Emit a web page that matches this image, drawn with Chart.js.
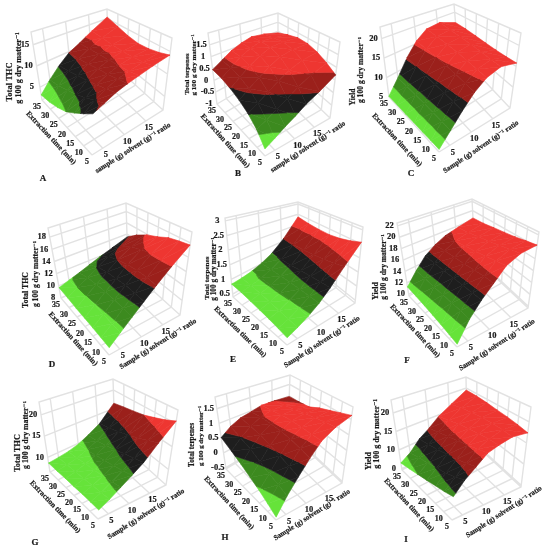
<!DOCTYPE html>
<html>
<head>
<meta charset="utf-8">
<title>Response surfaces</title>
<script src="https://cdn.jsdelivr.net/npm/chart.js@4/dist/chart.umd.min.js"></script>
<style>
  html, body { margin: 0; padding: 0; background: #fff; }
  #plot { display: block; filter: blur(0.4px); }
</style>
</head>
<body>
<canvas id="plot" width="544" height="550"></canvas>
<script>
// axis nodes of every surface table: rows run along time, columns along ratio
const TIME_NODES = [35, 30, 25, 20, 15, 10, 5];
const RATIO_NODES = [2.5, 5, 7.5, 10, 12.5, 15.5, 19];
const TIME_TICKS = [35, 30, 25, 20, 15, 10, 5];
const RATIO_TICKS = [5, 10, 15];

const Z_A = [
  [3.2, 5.5, 7.7, 9.7, 11, 13, 15.5],
  [3.6, 6, 8.2, 10, 11.4, 12.8, 14.3],
  [4.3, 6.8, 8.9, 10.5, 11.6, 12.6, 13.3],
  [5.2, 7.6, 9.5, 10.9, 11.8, 12.5, 12.8],
  [6.6, 8.5, 10.1, 11.2, 12, 12.6, 13],
  [8, 9.5, 10.7, 11.6, 12.2, 12.9, 13.5],
  [9.4, 10.3, 11.3, 12, 12.6, 13.4, 14.2],
];
const Z_B = [
  [0.45, 0.68, 0.93, 1.1, 1.22, 1.13, 0.92],
  [0.4, 0.65, 0.95, 1.15, 1.3, 1.25, 1.13],
  [0.28, 0.55, 0.85, 1.1, 1.3, 1.32, 1.27],
  [0.12, 0.38, 0.65, 0.9, 1.15, 1.25, 1.26],
  [-0.08, 0.12, 0.35, 0.6, 0.85, 1.05, 1.13],
  [-0.36, -0.22, -0.02, 0.2, 0.45, 0.7, 0.93],
  [-0.76, -0.58, -0.37, -0.17, 0.08, 0.32, 0.7],
];
const Z_C = [
  [5.2, 8.4, 12.3, 15.7, 18, 18.4, 16.2],
  [5.3, 8.4, 12, 15.4, 17.6, 18, 16.2],
  [5.3, 8.3, 11.7, 15, 17.2, 17.7, 16],
  [5.4, 8.3, 11.4, 14.7, 16.8, 17.4, 15.8],
  [5.4, 8.2, 11.2, 14.3, 16.3, 17.1, 15.7],
  [5.5, 8.1, 11, 13.9, 15.9, 16.8, 15.7],
  [5.5, 8, 10.8, 13.5, 15.5, 16.6, 15.8],
];
const Z_D = [
  [9.7, 10.2, 10.7, 11.3, 11.9, 12.6, 13.5],
  [9.5, 10.4, 11.2, 12.2, 13.2, 14, 14.9],
  [9.3, 10.4, 11.4, 12.6, 13.8, 15, 15.9],
  [9.2, 10.3, 11.5, 12.7, 14.1, 15.5, 16.5],
  [9.1, 10.2, 11.5, 12.8, 14.2, 15.8, 17.2],
  [9, 10.1, 11.4, 12.7, 14.2, 15.8, 17.5],
  [8.9, 10.07, 11.3, 12.6, 14, 15.7, 17.7],
];
const Z_E = [
  [0.84, 0.86, 0.91, 1.02, 1.2, 1.6, 2.37],
  [0.82, 0.86, 0.93, 1.05, 1.25, 1.62, 2.3],
  [0.78, 0.84, 0.93, 1.07, 1.28, 1.65, 2.27],
  [0.74, 0.81, 0.93, 1.09, 1.32, 1.7, 2.27],
  [0.7, 0.78, 0.92, 1.1, 1.36, 1.76, 2.33],
  [0.65, 0.75, 0.9, 1.1, 1.39, 1.83, 2.43],
  [0.6, 0.72, 0.88, 1.1, 1.42, 1.92, 2.56],
];
const Z_F = [
  [11.3, 13.2, 15, 16.2, 17.1, 17.7, 18.4],
  [11.1, 13.2, 15, 16.4, 17.4, 18, 18.6],
  [10.9, 13.1, 15, 16.5, 17.7, 18.4, 19],
  [10.7, 13.1, 15, 16.6, 17.9, 18.8, 19.3],
  [10.5, 13, 15, 16.7, 18.2, 19.2, 19.6],
  [10.3, 13, 15, 16.8, 18.5, 19.6, 20],
  [10.1, 12.9, 15, 16.8, 18.8, 19.9, 20.3],
];
const Z_G = [
  [8.7, 8.9, 9.2, 9.8, 10.9, 12.6, 16.4],
  [8.6, 8.9, 9.4, 10.2, 11.3, 13.1, 17],
  [8.6, 9, 9.7, 10.6, 11.8, 13.8, 17.5],
  [8.5, 9.1, 9.9, 11, 12.4, 14.6, 18],
  [8.5, 9.2, 10.2, 11.4, 13, 15.4, 18.8],
  [8.4, 9.3, 10.5, 11.8, 13.5, 16.2, 19.6],
  [8.3, 9.4, 10.8, 12.3, 14, 17, 20.6],
];
const Z_H = [
  [0.52, 0.75, 0.9, 0.97, 1.06, 1.04, 0.98],
  [0.32, 0.6, 0.85, 1.02, 1.12, 1.12, 1.02],
  [0.14, 0.47, 0.78, 1.02, 1.18, 1.2, 1.08],
  [-0.03, 0.3, 0.68, 1, 1.2, 1.28, 1.27],
  [-0.18, 0.17, 0.57, 0.95, 1.2, 1.35, 1.4],
  [-0.33, 0.07, 0.47, 0.87, 1.18, 1.4, 1.52],
  [-0.47, -0.03, 0.37, 0.78, 1.17, 1.43, 1.63],
];
const Z_I = [
  [6.5, 8, 10.5, 12.3, 14.6, 16.7, 19.4],
  [7, 8.6, 10.9, 13, 15.2, 17.3, 19.3],
  [7.5, 9.1, 11.3, 13.6, 15.8, 17.7, 19],
  [7.9, 9.6, 11.8, 14.1, 16.1, 17.9, 18.6],
  [8.3, 10.1, 12.2, 14.5, 16.3, 17.9, 18.3],
  [8.6, 10.7, 12.7, 15, 16.4, 17.7, 17.9],
  [9, 11.4, 13.3, 15.4, 16.4, 17.4, 17.4],
];

// z values where the surface colour changes
const LEVELS_A = [5.2, 7.5, 9.7, 12];
const LEVELS_B = [-0.47, -0.1, 0.3, 0.75];
const LEVELS_C = [6.8, 9.1, 12, 15];
const LEVELS_D = [10.4, 12.1, 13.75, 15.7];
const LEVELS_E = [0.92, 1.23, 1.6, 2.05];
const LEVELS_F = [11.9, 13.8, 15.5, 17.4];
const LEVELS_G = [10.3, 12.5, 14.8, 18];
const LEVELS_H = [-0.13, 0.25, 0.62, 1.05];
const LEVELS_I = [7.5, 9.5, 12, 14.5];

const BAND_COLORS = ["#66e33a", "#3c8a1f", "#1e1e1e", "#9b201b", "#ee3631"];
const GRID_COLOR = "#e2e2e2";
const TEXT_COLOR = "#1a1a1a";
const FONT = '"Liberation Serif", "DejaVu Serif", serif';
const MATTER = "g 100 g dry matter\u207B\u00B9";
const RATIO_LOWER = "sample (g) solvent (g)\u207B\u00B9 ratio";
const RATIO_UPPER = "Sample (g) solvent (g)\u207B\u00B9 ratio";

// floor/top = box corners in canvas units
const PANELS = [
  {
    tag: "A", tagAt: [43, 179], z: Z_A, levels: LEVELS_A, zRange: [2, 18],
    zTicks: [5, 10, 15], zLabels: ["5", "10", "15"],
    floor: { L: [42, 100], B: [108, 60], R: [163, 110], F: [92, 155] },
    top: { L: [31, 32], B: [107, 9], R: [172, 38], F: [94, 66] },
    titles: [["Total THC", 10, 82, 8.5], [MATTER, 19, 68, 8.2]],
    timeTitle: [51, 138, 47], ratioTitle: [RATIO_LOWER, 133, 148, -32.5],
  },
  {
    tag: "B", tagAt: [238, 174], z: Z_B, levels: LEVELS_B, zRange: [-1, 2],
    zTicks: [1.5, 1, 0.5, 0, -0.5, -1], zLabels: ["1.5", "1", "0.5", "0", "-0.5", "-1"],
    floor: { L: [217, 104], B: [278, 68], R: [330, 118], F: [265, 156] },
    top: { L: [208, 33], B: [278, 13], R: [340, 42], F: [264, 68] },
    titles: [["Total terpenes", 187, 74, 6.8], [MATTER, 194, 65, 7]],
    timeTitle: [225, 141, 48], ratioTitle: [RATIO_LOWER, 308, 147, -33],
  },
  {
    tag: "C", tagAt: [411, 174], z: Z_C, levels: LEVELS_C, zRange: [5, 23],
    zTicks: [20, 15, 10, 5], zLabels: ["20", "15", "10", "5"],
    floor: { L: [389, 97], B: [458, 53], R: [510, 108], F: [439, 152] },
    top: { L: [380, 27], B: [454, 4], R: [521, 33], F: [443, 60] },
    titles: [["Yield", 353, 97, 7.6], [MATTER, 361, 70, 7.6]],
    timeTitle: [397, 140, 47], ratioTitle: [RATIO_UPPER, 481, 147, -33.7],
  },
  {
    tag: "D", tagAt: [52, 365], z: Z_D, levels: LEVELS_D, zRange: [8, 19.5],
    zTicks: [18, 16, 14, 12, 10, 8], zLabels: ["18", "16", "14", "12", "10", "8"],
    floor: { L: [61, 298], B: [128, 268], R: [180, 315], F: [109, 355] },
    top: { L: [48, 228], B: [126, 203], R: [192, 232], F: [112, 262] },
    titles: [["Total THC", 26, 290, 7.8], [MATTER, 36, 274, 7.6]],
    timeTitle: [73, 339, 48], ratioTitle: [RATIO_UPPER, 158, 344, -32],
  },
  {
    tag: "E", tagAt: [233, 360], z: Z_E, levels: LEVELS_E, zRange: [0.4, 3.1],
    zTicks: [3, 2.5, 2, 1.5, 1, 0.5], zLabels: ["3", "2.5", "2", "1.5", "1", "0.5"],
    floor: { L: [233, 297], B: [298, 257], R: [355, 303], F: [287, 345] },
    top: { L: [225, 218], B: [298, 202], R: [363, 227], F: [289, 248] },
    titles: [["Total terpenes", 207, 278, 7.1], [MATTER, 214, 269, 7.3]],
    timeTitle: [240, 332, 44], ratioTitle: [RATIO_UPPER, 322, 342, -33],
  },
  {
    tag: "F", tagAt: [407, 361], z: Z_F, levels: LEVELS_F, zRange: [9.7, 22.5],
    zTicks: [22, 20, 18, 16, 14, 12, 10], zLabels: ["22", "20", "18", "16", "14", "12", "10"],
    floor: { L: [409, 296], B: [475, 258], R: [528, 308], F: [457, 347] },
    top: { L: [397, 223], B: [472, 199], R: [539, 232], F: [463, 258] },
    titles: [["Yield", 376, 291, 8], [MATTER, 384, 267, 7.5]],
    timeTitle: [415, 331, 47], ratioTitle: [RATIO_UPPER, 497, 345, -33],
  },
  {
    tag: "G", tagAt: [35, 543], z: Z_G, levels: LEVELS_G, zRange: [6.6, 23],
    zTicks: [20, 15, 10], zLabels: ["20", "15", "10"],
    floor: { L: [50, 472], B: [115, 439], R: [166, 485], F: [98, 519] },
    top: { L: [39, 402], B: [113, 379], R: [178, 410], F: [105, 432] },
    titles: [["Total THC", 18, 453, 8.2], [MATTER, 26, 435, 7.8]],
    timeTitle: [55, 507, 46], ratioTitle: [RATIO_UPPER, 146, 514, -32],
  },
  {
    tag: "H", tagAt: [225, 538], z: Z_H, levels: LEVELS_H, zRange: [-0.55, 1.9],
    zTicks: [1.5, 1, 0.5, 0, -0.5], zLabels: ["1.5", "1", "0.5", "0", "-0.5"],
    floor: { L: [226, 469], B: [288, 432], R: [342, 483], F: [276, 520] },
    top: { L: [215, 397], B: [290, 375], R: [353, 407], F: [280, 432] },
    titles: [["Total terpenes", 192, 445, 7.3], [MATTER, 201, 436, 6.9]],
    timeTitle: [229, 503, 47], ratioTitle: [RATIO_UPPER, 312, 515, -32.5],
  },
  {
    tag: "I", tagAt: [406, 540], z: Z_I, levels: LEVELS_I, zRange: [4.6, 23.5],
    zTicks: [20, 15, 10, 5], zLabels: ["20", "15", "10", "0"],
    floor: { L: [402, 470], B: [467, 437], R: [521, 487], F: [452, 520] },
    top: { L: [391, 400], B: [466, 377], R: [531, 407], F: [458, 420] },
    titles: [["Yield", 369, 461, 8], [MATTER, 377, 434, 8]],
    timeTitle: [409, 505, 47], ratioTitle: [RATIO_UPPER, 504, 512, -33],
  },
];

function lerp(a, b, t) {
  return a + (b - a) * t;
}

function timeFrac(t) {
  return (TIME_NODES[0] - t) / (TIME_NODES[0] - TIME_NODES[TIME_NODES.length - 1]);
}

function ratioFrac(r) {
  return (r - RATIO_NODES[0]) / (RATIO_NODES[RATIO_NODES.length - 1] - RATIO_NODES[0]);
}

// plane corners: a goes L -> F (time), b goes L -> B (ratio)
function onPlane(c, a, b) {
  const x = lerp(lerp(c.L[0], c.B[0], b), lerp(c.F[0], c.R[0], b), a);
  const y = lerp(lerp(c.L[1], c.B[1], b), lerp(c.F[1], c.R[1], b), a);
  return [x, y];
}

function project(panel, t, r, z) {
  const a = timeFrac(t);
  const b = ratioFrac(r);
  const w = (z - panel.zRange[0]) / (panel.zRange[1] - panel.zRange[0]);
  const p0 = onPlane(panel.floor, a, b);
  const p1 = onPlane(panel.top, a, b);
  return { x: lerp(p0[0], p1[0], w), y: lerp(p0[1], p1[1], w) };
}

function clipLevel(poly, level, keepAbove) {
  const out = [];
  poly.forEach((p, i) => {
    const q = poly[(i + 1) % poly.length];
    const pIn = keepAbove ? p.z >= level : p.z <= level;
    const qIn = keepAbove ? q.z >= level : q.z <= level;
    if (pIn) out.push(p);
    if (pIn !== qIn) {
      const s = (level - p.z) / (q.z - p.z);
      out.push({ x: lerp(p.x, q.x, s), y: lerp(p.y, q.y, s), z: level });
    }
  });
  return out;
}

function polyDataset(points, color) {
  return {
    data: points.map((p) => ({ x: p.x, y: p.y })).concat({ x: points[0].x, y: points[0].y }),
    showLine: true,
    fill: "shape",
    backgroundColor: color,
    borderColor: color,
    borderWidth: 0.6,
    pointRadius: 0,
    tension: 0,
  };
}

function surfaceDatasets(panel) {
  const sets = [];
  const vertex = (i, j) => {
    const z = panel.z[i][j];
    return { ...project(panel, TIME_NODES[i], RATIO_NODES[j], z), z };
  };
  const addTriangle = (tri) => {
    BAND_COLORS.forEach((color, k) => {
      let poly = tri;
      if (k > 0) poly = clipLevel(poly, panel.levels[k - 1], true);
      if (k < panel.levels.length && poly.length) poly = clipLevel(poly, panel.levels[k], false);
      if (poly.length >= 3) sets.push(polyDataset(poly, color));
    });
  };
  // far corner first so that nearer cells paint over it
  for (let i = 0; i < TIME_NODES.length - 1; i++) {
    for (let j = RATIO_NODES.length - 2; j >= 0; j--) {
      const v00 = vertex(i, j);
      const v01 = vertex(i, j + 1);
      const v10 = vertex(i + 1, j);
      const v11 = vertex(i + 1, j + 1);
      addTriangle([v01, v11, v00]);
      addTriangle([v00, v11, v10]);
    }
  }
  return sets;
}

function wallDataset(panel) {
  const [zLo, zHi] = panel.zRange;
  const tEnd = TIME_NODES[TIME_NODES.length - 1];
  const tStart = TIME_NODES[0];
  const rLo = RATIO_NODES[0];
  const rHi = RATIO_NODES[RATIO_NODES.length - 1];
  const pts = [];
  const segment = (...list) => {
    list.forEach(([t, r, z]) => pts.push(project(panel, t, r, z)));
    pts.push({ x: NaN, y: NaN });
  };

  // outline of floor and the two back walls
  segment([tEnd, rLo, zLo], [tStart, rLo, zLo], [tStart, rLo, zHi], [tStart, rHi, zHi], [tEnd, rHi, zHi], [tEnd, rHi, zLo], [tEnd, rLo, zLo]);
  segment([tStart, rLo, zLo], [tStart, rHi, zLo], [tEnd, rHi, zLo]);
  segment([tStart, rHi, zLo], [tStart, rHi, zHi]);

  TIME_TICKS.slice(1, -1).forEach((t) => {
    segment([t, rLo, zLo], [t, rHi, zLo], [t, rHi, zHi]);
  });
  RATIO_TICKS.forEach((r) => {
    segment([tEnd, r, zLo], [tStart, r, zLo], [tStart, r, zHi]);
  });
  panel.zTicks.forEach((z) => {
    segment([tStart, rLo, z], [tStart, rHi, z], [tEnd, rHi, z]);
  });

  return {
    data: pts,
    showLine: true,
    fill: false,
    spanGaps: false,
    borderColor: GRID_COLOR,
    borderWidth: 1.4,
    pointRadius: 0,
    tension: 0,
  };
}

const panelText = {
  id: "panelText",
  afterDraw(chart) {
    const { ctx, scales } = chart;
    const px = (x) => scales.x.getPixelForValue(x);
    const py = (y) => scales.y.getPixelForValue(y);
    const put = (text, x, y, size, angle = 0) => {
      ctx.save();
      ctx.translate(px(x), py(y));
      ctx.rotate((angle * Math.PI) / 180);
      ctx.font = `bold ${size}px ${FONT}`;
      ctx.fillStyle = TEXT_COLOR;
      ctx.strokeStyle = TEXT_COLOR;
      ctx.lineWidth = 0.2;
      ctx.textAlign = "center";
      ctx.textBaseline = "middle";
      ctx.fillText(text, 0, 0);
      ctx.strokeText(text, 0, 0);
      ctx.restore();
    };

    PANELS.forEach((panel) => {
      const tStart = TIME_NODES[0];
      const tEnd = TIME_NODES[TIME_NODES.length - 1];
      const rLo = RATIO_NODES[0];

      TIME_TICKS.forEach((t) => {
        const p = project(panel, t, rLo, panel.zRange[0]);
        put(String(t), p.x - 5, p.y + 7, 8);
      });
      RATIO_TICKS.forEach((r) => {
        const p = project(panel, tEnd, r, panel.zRange[0]);
        put(String(r), p.x + 3, p.y + 7, 8.5);
      });
      panel.zTicks.forEach((z, i) => {
        const p = project(panel, tStart, rLo, z);
        put(panel.zLabels[i], p.x - 8, p.y, 8.5);
      });

      panel.titles.forEach(([text, x, y, size]) => put(text, x, y, size, -90));
      put("Extraction time (min)", panel.timeTitle[0], panel.timeTitle[1], 7.5, panel.timeTitle[2]);
      put(panel.ratioTitle[0], panel.ratioTitle[1], panel.ratioTitle[2], 7.2, panel.ratioTitle[3]);
      put(panel.tag, panel.tagAt[0], panel.tagAt[1], 9);
    });
  },
};

// paint order: walls then surface cells, chart.js paints the first dataset last
const paintOrder = [];
PANELS.forEach((panel) => {
  paintOrder.push(wallDataset(panel));
  paintOrder.push(...surfaceDatasets(panel));
});

new Chart(document.getElementById("plot"), {
  type: "scatter",
  data: { datasets: paintOrder.reverse() },
  plugins: [panelText],
  options: {
    responsive: false,
    animation: false,
    events: [],
    layout: { padding: 0 },
    plugins: { legend: { display: false }, tooltip: { enabled: false } },
    scales: {
      x: { type: "linear", min: 0, max: 544, display: false },
      y: { type: "linear", min: 0, max: 550, reverse: true, display: false },
    },
  },
});
</script>
</body>
</html>
